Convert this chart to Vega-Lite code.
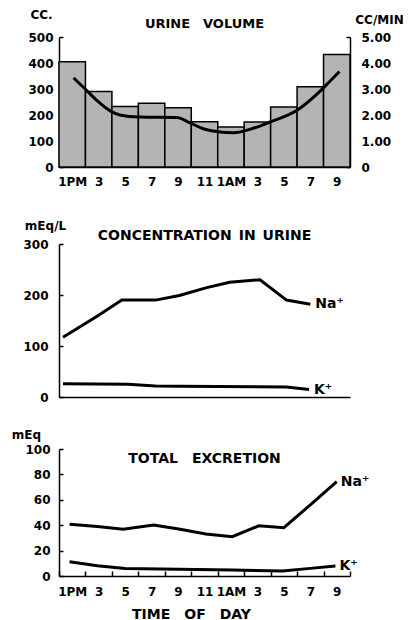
{
  "$schema": "https://vega.github.io/schema/vega-lite/v6.json",
  "background": "white",
  "padding": {"left": 11, "top": 8, "right": 0, "bottom": 0},
  "config": {
    "view": {"stroke": null},
    "font": "DejaVu Sans",
    "axis": {
      "grid": false, "domainColor": "black", "domainWidth": 1.5,
      "tickColor": "black", "tickWidth": 1.5, "tickSize": -4,
      "labelFont": "DejaVu Sans", "labelFontWeight": "bold", "labelFontSize": 12, "labelColor": "black",
      "titleFont": "DejaVu Sans", "titleFontWeight": "bold", "titleFontSize": 12, "titleColor": "black",
      "labelFlush": false, "labelOverlap": false
    },
    "title": {"font": "DejaVu Sans", "fontWeight": "bold", "fontSize": 13, "color": "black", "anchor": "middle", "baseline": "alphabetic", "offset": 0}
  },
  "bounds": "flush",
  "spacing": 77,
  "vconcat": [
    {
      "width": 291, "height": 130,
      "title": {"text": "URINE\u2003VOLUME", "fontSize": 13, "dy": 27},
      "layer": [
        {
          "data": {"values": [
            {"t0": 0, "t1": 2, "cc": 405}, {"t0": 2, "t1": 4, "cc": 290}, {"t0": 4, "t1": 6, "cc": 233},
            {"t0": 6, "t1": 8, "cc": 245}, {"t0": 8, "t1": 10, "cc": 228}, {"t0": 10, "t1": 12, "cc": 174},
            {"t0": 12, "t1": 14, "cc": 154}, {"t0": 14, "t1": 16, "cc": 173}, {"t0": 16, "t1": 18, "cc": 231},
            {"t0": 18, "t1": 20, "cc": 309}, {"t0": 20, "t1": 22, "cc": 433}
          ]},
          "mark": {"type": "bar", "fill": "#b4b4b4", "stroke": "black", "strokeWidth": 1.5},
          "encoding": {
            "x": {"field": "t0", "type": "quantitative", "scale": {"domain": [0, 22], "nice": false},
              "axis": {"values": [1, 3, 5, 7, 9, 11, 13, 15, 17, 19, 21], "ticks": false, "title": null, "labelPadding": 9, "labelOverlap": false,
                "labelExpr": "datum.value == 1 ? '1PM' : datum.value == 13 ? '1AM' : datum.value > 12 ? '' + (datum.value - 12) : '' + datum.value"}},
            "x2": {"field": "t1"},
            "y": {"field": "cc", "type": "quantitative", "scale": {"domain": [0, 500], "nice": false},
              "axis": {"values": [0, 100, 200, 300, 400, 500], "title": "CC.", "titleAngle": 0, "titleX": -18, "titleY": -19,
                "titleAlign": "center", "titleBaseline": "alphabetic", "labelPadding": 10}},
            "y2": {"datum": 0}
          }
        },
        {
          "data": {"values": [
            {"t": 1.1, "rate": 3.43}, {"t": 2.0, "rate": 2.99}, {"t": 2.9, "rate": 2.54}, {"t": 3.9, "rate": 2.15},
            {"t": 4.6, "rate": 2.0}, {"t": 6.1, "rate": 1.92}, {"t": 8.9, "rate": 1.9}, {"t": 9.9, "rate": 1.7},
            {"t": 10.9, "rate": 1.47}, {"t": 12.0, "rate": 1.36}, {"t": 13.2, "rate": 1.32}, {"t": 14.7, "rate": 1.49},
            {"t": 16.0, "rate": 1.74}, {"t": 18.0, "rate": 2.18}, {"t": 19.5, "rate": 2.8}, {"t": 20.5, "rate": 3.31},
            {"t": 21.2, "rate": 3.67}
          ]},
          "mark": {"type": "line", "color": "black", "strokeWidth": 3, "interpolate": "monotone"},
          "encoding": {
            "x": {"field": "t", "type": "quantitative",
              "axis": {"values": [1, 3, 5, 7, 9, 11, 13, 15, 17, 19, 21], "ticks": false, "title": null, "labelPadding": 9, "labelOverlap": false,
                "labelExpr": "datum.value == 1 ? '1PM' : datum.value == 13 ? '1AM' : datum.value > 12 ? '' + (datum.value - 12) : '' + datum.value"}},
            "y": {"field": "rate", "type": "quantitative", "scale": {"domain": [0, 5], "nice": false},
              "axis": {"orient": "right", "values": [0, 1, 2, 3, 4, 5], "title": "CC/MIN", "titleAngle": 0, "titleX": 29, "titleY": -14,
                "titleAlign": "center", "titleBaseline": "alphabetic", "labelPadding": 15,
                "labelExpr": "datum.value == 0 ? '0' : format(datum.value, '.2f')"}}
          }
        }
      ],
      "resolve": {"scale": {"y": "independent"}}
    },
    {
      "bounds": "flush",
      "spacing": 52,
      "vconcat": [
        {
          "width": 291, "height": 153,
          "title": {"text": "CONCENTRATION\u2002IN\u2002URINE", "fontSize": 14, "dy": 28},
          "data": {"values": [
            {"series": "Na⁺", "t": 0.3, "v": 117}, {"series": "Na⁺", "t": 2.85, "v": 158}, {"series": "Na⁺", "t": 4.75, "v": 190},
            {"series": "Na⁺", "t": 7.3, "v": 190}, {"series": "Na⁺", "t": 9.1, "v": 199}, {"series": "Na⁺", "t": 11.1, "v": 214},
            {"series": "Na⁺", "t": 12.9, "v": 225}, {"series": "Na⁺", "t": 15.2, "v": 230}, {"series": "Na⁺", "t": 17.2, "v": 190},
            {"series": "Na⁺", "t": 19.0, "v": 182},
            {"series": "K⁺", "t": 0.3, "v": 26}, {"series": "K⁺", "t": 5.2, "v": 25}, {"series": "K⁺", "t": 7.3, "v": 21.5},
            {"series": "K⁺", "t": 9.1, "v": 21}, {"series": "K⁺", "t": 17.2, "v": 19.5}, {"series": "K⁺", "t": 18.9, "v": 14.5}
          ]},
          "encoding": {
            "x": {"field": "t", "type": "quantitative", "scale": {"domain": [0, 22], "nice": false},
              "axis": {"labels": false, "ticks": false, "title": null}},
            "y": {"field": "v", "type": "quantitative", "scale": {"domain": [0, 300], "nice": false},
              "axis": {"values": [0, 100, 200, 300], "title": "mEq/L", "titleAngle": 0, "titleX": -14, "titleY": -15,
                "titleAlign": "center", "titleBaseline": "alphabetic", "labelPadding": 15}}
          },
          "layer": [
            {"mark": {"type": "line", "color": "black", "strokeWidth": 3}, "encoding": {"detail": {"field": "series"}}},
            {
              "transform": [
                {"joinaggregate": [{"op": "max", "field": "t", "as": "tmax"}], "groupby": ["series"]},
                {"filter": "datum.t == datum.tmax"}
              ],
              "mark": {"type": "text", "align": "left", "baseline": "middle", "dx": 5, "fontSize": 14, "fontWeight": "bold", "color": "black"},
              "encoding": {"text": {"field": "series"}}
            }
          ]
        },
        {
          "width": 291, "height": 127,
          "title": {"text": "TOTAL\u2003EXCRETION", "fontSize": 14, "dy": 42},
          "data": {"values": [
            {"series": "Na⁺", "t": 0.8, "v": 40.8}, {"series": "Na⁺", "t": 2.9, "v": 38.9}, {"series": "Na⁺", "t": 4.85, "v": 36.8},
            {"series": "Na⁺", "t": 7.15, "v": 40.2}, {"series": "Na⁺", "t": 9.05, "v": 37}, {"series": "Na⁺", "t": 11.1, "v": 33},
            {"series": "Na⁺", "t": 13.1, "v": 31}, {"series": "Na⁺", "t": 15.1, "v": 39.5}, {"series": "Na⁺", "t": 17.0, "v": 38},
            {"series": "Na⁺", "t": 19.0, "v": 56}, {"series": "Na⁺", "t": 21.0, "v": 74.4},
            {"series": "K⁺", "t": 0.8, "v": 11.3}, {"series": "K⁺", "t": 2.9, "v": 8.1}, {"series": "K⁺", "t": 5.0, "v": 6},
            {"series": "K⁺", "t": 9.05, "v": 5.3}, {"series": "K⁺", "t": 13.1, "v": 4.7}, {"series": "K⁺", "t": 16.9, "v": 4},
            {"series": "K⁺", "t": 19.0, "v": 6}, {"series": "K⁺", "t": 20.9, "v": 7.9}
          ]},
          "encoding": {
            "x": {"field": "t", "type": "quantitative", "scale": {"domain": [0, 22], "nice": false},
              "axis": {"values": [0, 1, 2, 3, 4, 5, 6, 7, 8, 9, 10, 11, 12, 13, 14, 15, 16, 17, 18, 19, 20, 21, 22],
                "tickSize": -5, "labelPadding": 15,
                "tickOpacity": {"condition": {"test": "datum.value % 2 == 1", "value": 0}, "value": 1},
                "labelExpr": "datum.value % 2 == 0 ? '' : datum.value == 1 ? '1PM' : datum.value == 13 ? '1AM' : datum.value > 12 ? '' + (datum.value - 12) : '' + datum.value",
                "title": "TIME\u2003OF\u2003DAY", "titleFontSize": 14, "titleX": 132, "titleY": 42, "titleAlign": "center", "titleBaseline": "alphabetic"}},
            "y": {"field": "v", "type": "quantitative", "scale": {"domain": [0, 100], "nice": false},
              "axis": {"values": [0, 20, 40, 60, 80, 100], "title": "mEq", "titleAngle": 0, "titleX": -33, "titleY": -11,
                "titleAlign": "center", "titleBaseline": "alphabetic", "labelPadding": 13}}
          },
          "layer": [
            {"mark": {"type": "line", "color": "black", "strokeWidth": 3}, "encoding": {"detail": {"field": "series"}}},
            {
              "transform": [
                {"joinaggregate": [{"op": "max", "field": "t", "as": "tmax"}], "groupby": ["series"]},
                {"filter": "datum.t == datum.tmax"}
              ],
              "mark": {"type": "text", "align": "left", "baseline": "middle", "dx": 4, "fontSize": 14, "fontWeight": "bold", "color": "black"},
              "encoding": {"text": {"field": "series"}}
            }
          ]
        }
      ]
    }
  ]
}
